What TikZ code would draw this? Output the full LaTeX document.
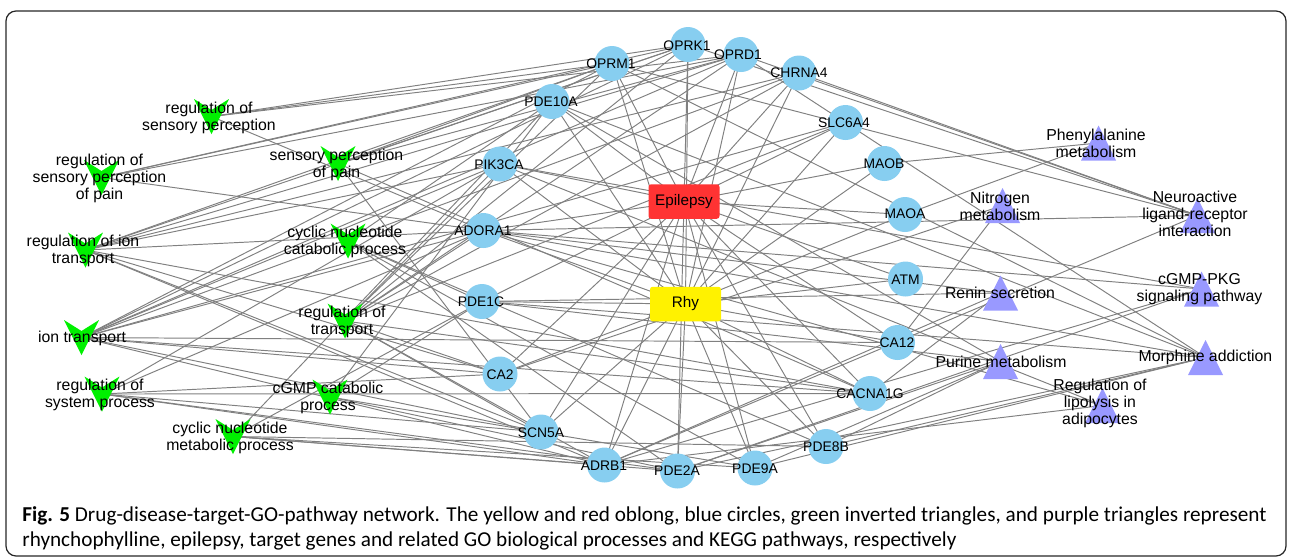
\documentclass[tikz,border=0pt]{standalone}
\usepackage{fontspec}
\setmainfont{Liberation Sans}
\newfontfamily\capfont{Carlito}
\pgfdeclarelayer{bg}
\pgfsetlayers{bg,main}
\definecolor{tblue}{RGB}{135,206,240}
\definecolor{gogreen}{RGB}{0,240,0}
\definecolor{pwpurple}{RGB}{153,153,255}
\definecolor{epired}{RGB}{255,51,51}
\definecolor{edgegray}{RGB}{128,128,128}
\tikzset{
  target/.style={circle,fill=tblue,minimum size=0.7cm,inner sep=0pt},
  tlbl/.style={font=\fontsize{7.9pt}{9pt}\selectfont,inner sep=0pt},
  golbl/.style={font=\fontsize{9pt}{9.7pt}\selectfont,align=center,inner sep=0pt},
  gonode/.style={rectangle,minimum size=0.7cm,inner sep=0pt,
    path picture={\fill[gogreen] (path picture bounding box.north west)
      -- ([yshift=-0.22cm]path picture bounding box.north)
      -- (path picture bounding box.north east)
      -- (path picture bounding box.south) -- cycle;}},
  pwnode/.style={rectangle,minimum size=0.7cm,inner sep=0pt,
    path picture={\fill[pwpurple] (path picture bounding box.south west)
      -- (path picture bounding box.north)
      -- (path picture bounding box.south east) -- cycle;}},
  oblong/.style={rectangle,rounded corners=1.5pt,minimum width=1.42cm,minimum height=0.69cm,
    inner sep=0pt,font=\fontsize{8.7pt}{10pt}\selectfont},
  edge/.style={draw=edgegray,line width=0.55pt},
  caption/.style={anchor=west,inner sep=0pt,font=\capfont\fontsize{12.07pt}{14pt}\selectfont},
}
\begin{document}
\begin{tikzpicture}[x=0.02cm,y=-0.02cm]
\useasboundingbox (0,0) rectangle (1292,559);
\draw [rounded corners=0.2cm,line width=0.7pt,black!85] (6,11) rectangle (1286,556);
%% drug and disease
 \node (epi) at (684,201.5) [oblong,fill=epired] {Epilepsy};
 \node (rhy) at (685.5,304) [oblong,fill=yellow] {Rhy};
%% targets
 \node (oprk1) at (688,44.5) [target] {};
 \node (oprd1) at (741,54.5) [target] {};
 \node (oprm1) at (612,63.5) [target] {};
 \node (chrna4) at (799,73) [target] {};
 \node (pde10a) at (552,101.5) [target] {};
 \node (slc6a4) at (845.5,122.5) [target] {};
 \node (pik3ca) at (500,164) [target] {};
 \node (maob) at (884.5,163.5) [target] {};
 \node (adora1) at (483.5,230.5) [target] {};
 \node (maoa) at (905,214.5) [target] {};
 \node (atm) at (905.5,279) [target] {};
 \node (pde1c) at (482,301.5) [target] {};
 \node (ca12) at (897.5,342.5) [target] {};
 \node (ca2) at (500,374) [target] {};
 \node (cacna1g) at (870,393.5) [target] {};
 \node (scn5a) at (541,432) [target] {};
 \node (pde8b) at (826,446.5) [target] {};
 \node (adrb1) at (604.5,465) [target] {};
 \node (pde2a) at (677.5,471) [target] {};
 \node (pde9a) at (755,468) [target] {};
%% GO processes
 \node (rsp) at (211.5,116.5) [gonode] {};
 \node (rspp) at (101.5,177.5) [gonode] {};
 \node (spp) at (338,163.5) [gonode] {};
 \node (rit) at (85.5,250) [gonode] {};
 \node (cncp) at (348,241) [gonode] {};
 \node (iont) at (81.5,337.5) [gonode] {};
 \node (rtr) at (345,321) [gonode] {};
 \node (rsys) at (102,394) [gonode] {};
 \node (cgmp) at (330,397) [gonode] {};
 \node (cnmp) at (233,436.5) [gonode] {};
%% KEGG pathways
 \node (phe) at (1098.5,143) [pwnode] {};
 \node (nit) at (1002.5,205.5) [pwnode] {};
 \node (neuro) at (1197.5,215.5) [pwnode] {};
 \node (renin) at (1000.5,293) [pwnode] {};
 \node (pkg) at (1201.5,289) [pwnode] {};
 \node (purine) at (1000.5,361.5) [pwnode] {};
 \node (morph) at (1205.5,357.5) [pwnode] {};
 \node (lipo) at (1102.5,405.5) [pwnode] {};
%% labels
 \node (oprk1-t) at (687,45.5) [tlbl] {OPRK1};
 \node (oprd1-t) at (738,55) [tlbl] {OPRD1};
 \node (oprm1-t) at (611,64) [tlbl] {OPRM1};
 \node (chrna4-t) at (799,73) [tlbl] {CHRNA4};
 \node (pde10a-t) at (551,102) [tlbl] {PDE10A};
 \node (slc6a4-t) at (844,123) [tlbl] {SLC6A4};
 \node (pik3ca-t) at (499,165) [tlbl] {PIK3CA};
 \node (maob-t) at (884,164) [tlbl] {MAOB};
 \node (adora1-t) at (483,231) [tlbl] {ADORA1};
 \node (maoa-t) at (905,214) [tlbl] {MAOA};
 \node (atm-t) at (905.5,279.5) [tlbl] {ATM};
 \node (pde1c-t) at (481,302) [tlbl] {PDE1C};
 \node (ca12-t) at (897,343) [tlbl] {CA12};
 \node (ca2-t) at (500,375) [tlbl] {CA2};
 \node (cacna1g-t) at (870,394) [tlbl] {CACNA1G};
 \node (scn5a-t) at (541,433) [tlbl] {SCN5A};
 \node (pde8b-t) at (826,447) [tlbl] {PDE8B};
 \node (adrb1-t) at (604,466) [tlbl] {ADRB1};
 \node (pde2a-t) at (677,471) [tlbl] {PDE2A};
 \node (pde9a-t) at (755,469) [tlbl] {PDE9A};
 \node (rsp-t) at (209,117.5) [golbl] {regulation of\\sensory perception};
 \node (rspp-t) at (99.5,178) [golbl] {regulation of\\sensory perception\\of pain};
 \node (spp-t) at (336.5,164.5) [golbl] {sensory perception\\of pain};
 \node (rit-t) at (83,250.5) [golbl] {regulation of ion\\transport};
 \node (cncp-t) at (345,241.5) [golbl] {cyclic nucleotide\\catabolic process};
 \node (iont-t) at (82,338) [golbl] {ion transport};
 \node (rtr-t) at (342,321.5) [golbl] {regulation of\\transport};
 \node (rsys-t) at (100,395) [golbl] {regulation of\\system process};
 \node (cgmp-t) at (328,397.5) [golbl] {cGMP catabolic\\process};
 \node (cnmp-t) at (230,437.5) [golbl] {cyclic nucleotide\\metabolic process};
 \node (phe-t) at (1096,143.5) [golbl] {Phenylalanine\\metabolism};
 \node (nit-t) at (1000,206.5) [golbl] {Nitrogen\\metabolism};
 \node (neuro-t) at (1195,213.5) [golbl] {Neuroactive\\ligand-receptor\\interaction};
 \node (renin-t) at (1000,293) [golbl] {Renin secretion};
 \node (pkg-t) at (1199.5,289) [golbl] {cGMP-PKG\\signaling pathway};
 \node (purine-t) at (1001,362) [golbl] {Purine metabolism};
 \node (morph-t) at (1205.5,357) [golbl] {Morphine addiction};
 \node (lipo-t) at (1100,403.5) [golbl] {Regulation of\\lipolysis in\\adipocytes};
%% caption
 \node (cap1) at (22,516) [caption]
   {\textbf{Fig. 5} Drug-disease-target-GO-pathway network. The yellow and red oblong, blue circles, green inverted triangles, and purple triangles represent};
 \node (cap2) at (22,541) [caption]
   {rhynchophylline, epilepsy, target genes and related GO biological processes and KEGG pathways, respectively};
%% edges
\begin{pgfonlayer}{bg}
 \foreach \t in {oprk1,oprd1,oprm1,chrna4,pde10a,slc6a4,pik3ca,maob,adora1,maoa,atm,pde1c,ca12,ca2,cacna1g,scn5a,pde8b,adrb1,pde2a,pde9a}{
  \draw [edge] (rhy.center) -- (\t.center);
  \draw [edge] (epi.center) -- (\t.center);
 }
 \foreach \a/\b in {rsp/oprm1,rsp/oprk1,rsp/oprd1,rsp/adora1,
   rspp/oprm1,rspp/oprk1,rspp/oprd1,rspp/adora1,
   spp/oprm1,spp/oprk1,spp/oprd1,spp/scn5a,spp/cacna1g,
   rit/oprm1,rit/oprk1,rit/oprd1,rit/chrna4,rit/pik3ca,rit/adora1,rit/ca2,rit/scn5a,rit/cacna1g,rit/adrb1,
   cncp/pde10a,cncp/pde1c,cncp/pde2a,cncp/pde8b,cncp/pde9a,
   iont/oprm1,iont/oprk1,iont/oprd1,iont/chrna4,iont/slc6a4,iont/pik3ca,iont/adora1,iont/ca2,iont/ca12,iont/scn5a,iont/cacna1g,iont/adrb1,
   rtr/oprm1,rtr/oprk1,rtr/oprd1,rtr/chrna4,rtr/slc6a4,rtr/pik3ca,rtr/adora1,rtr/ca2,rtr/scn5a,rtr/cacna1g,rtr/adrb1,
   rsys/adora1,rsys/pik3ca,rsys/adrb1,rsys/scn5a,rsys/cacna1g,rsys/ca2,rsys/pde2a,
   cgmp/pde10a,cgmp/pde1c,cgmp/pde2a,cgmp/pde9a,
   cnmp/pde10a,cnmp/pde1c,cnmp/pde2a,cnmp/pde8b,cnmp/pde9a,cnmp/adrb1}
  \draw [edge] (\a.center) -- (\b.center);
 \foreach \a/\b in {phe/maob,phe/maoa,nit/ca2,nit/ca12,
   neuro/oprk1,neuro/oprd1,neuro/oprm1,neuro/chrna4,neuro/adora1,neuro/adrb1,
   renin/adora1,renin/adrb1,renin/pde1c,renin/cacna1g,
   pkg/adora1,pkg/adrb1,pkg/pde2a,pkg/pik3ca,
   purine/pde10a,purine/pde1c,purine/pde2a,purine/pde8b,purine/pde9a,
   morph/oprm1,morph/oprd1,morph/pde10a,morph/pde1c,morph/pde2a,morph/pde8b,morph/pde9a,morph/adora1,
   lipo/adora1,lipo/adrb1,lipo/pik3ca}
  \draw [edge] (\a.center) -- (\b.center);
\end{pgfonlayer}
%
\end{tikzpicture}
\end{document}
